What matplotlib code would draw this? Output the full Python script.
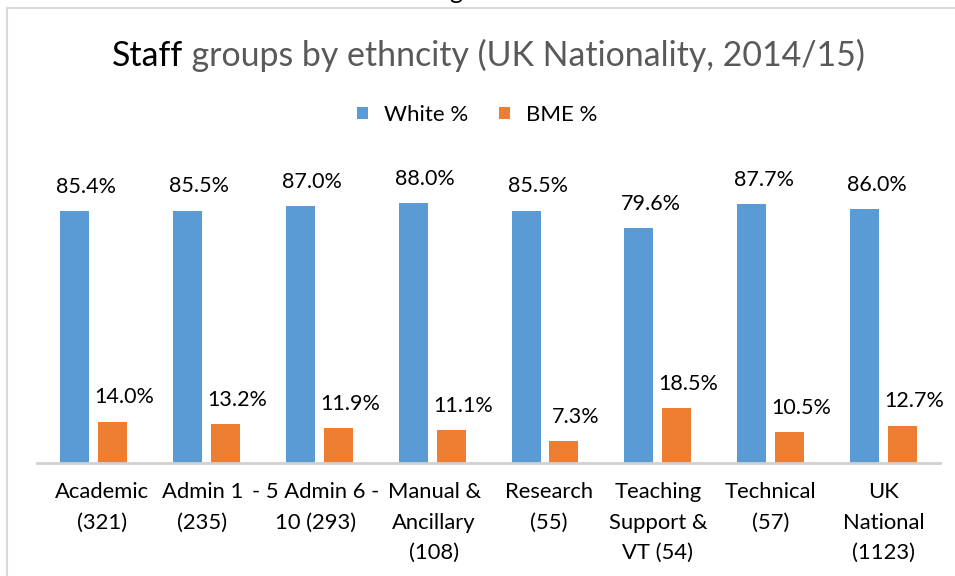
import numpy as np
import matplotlib.pyplot as plt
from matplotlib.patches import Rectangle
from matplotlib.transforms import ScaledTranslation

plt.rcParams['font.family'] = ['Lato', 'DejaVu Sans']

# data
categories = ['Academic\n(321)', 'Admin 1\n(235)', '- 5 Admin 6 -\n10 (293)',
              'Manual &\nAncillary\n(108)', 'Research\n(55)',
              'Teaching\nSupport &\nVT (54)', 'Technical\n(57)', 'UK\nNational\n(1123)']
white_pct = [85.4, 85.5, 87.0, 88.0, 85.5, 79.6, 87.7, 86.0]
bme_pct = [14.0, 13.2, 11.9, 11.1, 7.3, 18.5, 10.5, 12.7]

blue = '#5B9BD5'
orange = '#ED7D31'

fig = plt.figure(figsize=(9.55, 5.76), dpi=100)
ax = fig.add_axes([0.0389, 0.1962, 0.9454, 0.5122])

x = np.arange(len(categories))
w = 0.257
off = 0.168
b1 = ax.bar(x - off, white_pct, w, color=blue, label='White %')
b2 = ax.bar(x + off, bme_pct, w, color=orange, label='BME %')

for xs, vals in [(x - off, white_pct), (x + off, bme_pct)]:
    for xi, v in zip(xs, vals):
        ax.annotate(f'{v:.1f}%', (xi, v), xytext=(8.5, 17.5), textcoords='offset points',
                    ha='center', va='center', fontsize=15.5, color='#000000')

ax.set_xlim(-0.5, 7.5)
ax.set_ylim(0, 100)
ax.set_yticks([])
for s in ['top', 'right', 'left']:
    ax.spines[s].set_visible(False)
ax.spines['bottom'].set_color('#D0D0D0')
ax.spines['bottom'].set_linewidth(2)
ax.set_xticks(x)
ax.set_xticklabels(categories, fontsize=15.8, linespacing=1.65)
ax.tick_params(axis='x', length=0, pad=14)
# small sideways nudges like the original wrapped labels
for lab, dx in zip(ax.get_xticklabels(), [8, -4, -4, 2, 4, 0, 0, 0]):
    lab.set_transform(lab.get_transform() + ScaledTranslation(dx / 100, 0, fig.dpi_scale_trans))

# title in two colours
t1 = fig.text(112 / 955, 1 - 66 / 576, 'Staff', fontsize=24.4, color='#000000',
              ha='left', va='baseline')
ax.annotate(' groups by ethncity (UK Nationality, 2014/15)', xy=(1, 0), xycoords=t1,
            ha='left', va='bottom', fontsize=24.4, color='#595959')

fig.text(0.4975, 1 + 1 / 576, 'Figure 6', fontsize=18, ha='center', va='baseline')

fig.legend(handles=[b1, b2], loc='center', bbox_to_anchor=(0.4995, 1 - 115 / 576),
           ncol=2, frameon=False, fontsize=16, handlelength=0.5, handleheight=0.5,
           handletextpad=0.7, columnspacing=1.4)

fig.patches.append(Rectangle((7 / 955, -0.1), 1.2, 1 - 8 / 576 + 0.1, transform=fig.transFigure,
                             fill=False, edgecolor='#D9D9D9', linewidth=1.5))

fig.savefig('out.png', dpi=100)
